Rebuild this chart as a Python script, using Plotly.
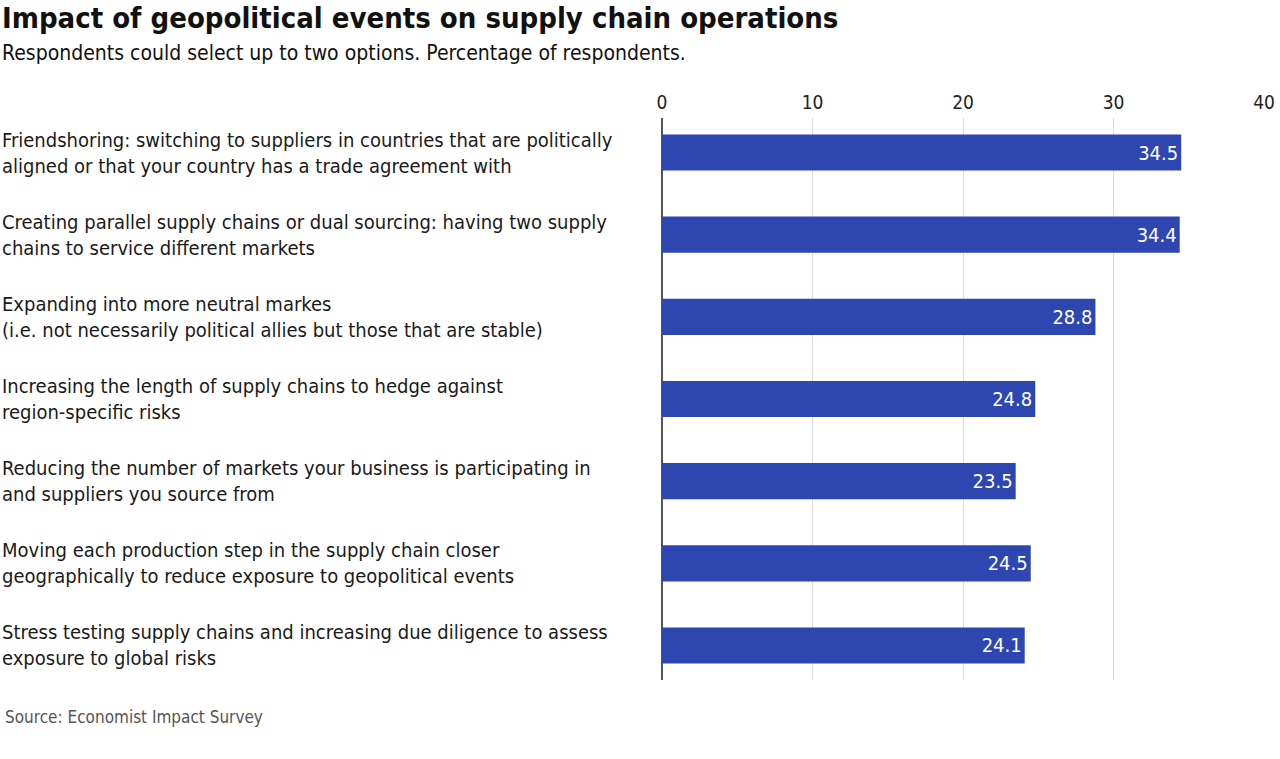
import plotly.graph_objects as go

# data
categories = [
    "Friendshoring: switching to suppliers in countries that are politically<br>aligned or that your country has a trade agreement with",
    "Creating parallel supply chains or dual sourcing: having two supply<br>chains to service different markets",
    "Expanding into more neutral markes<br>(i.e. not necessarily political allies but those that are stable)",
    "Increasing the length of supply chains to hedge against<br>region-specific risks",
    "Reducing the number of markets your business is participating in<br>and suppliers you source from",
    "Moving each production step in the supply chain closer<br>geographically to reduce exposure to geopolitical events",
    "Stress testing supply chains and increasing due diligence to assess<br>exposure to global risks",
]
values = [34.5, 34.4, 28.8, 24.8, 23.5, 24.5, 24.1]
x_ticks = [0, 10, 20, 30, 40]

FONT = "Liberation Sans Narrow, DejaVu Sans Condensed, Roboto, sans-serif"
BAR_COLOR = "#2e46b0"

fig = go.Figure()
fig.add_trace(go.Bar(
    x=values,
    y=list(range(len(categories))),
    orientation="h",
    width=0.44,
    marker=dict(color=BAR_COLOR, line=dict(width=0)),
    text=[f"{v:.1f}" for v in values],
    textposition="inside",
    insidetextanchor="end",
    textfont=dict(color="white", size=20, family=FONT),
    hoverinfo="skip",
))

# category labels, left-aligned in the left margin
for i, label in enumerate(categories):
    fig.add_annotation(
        x=0.0, xref="paper", xanchor="left",
        y=i, yref="y", yanchor="middle",
        text=label, showarrow=False, align="left",
        font=dict(size=20, color="#1a1a1a", family=FONT),
    )

# title block and source
fig.add_annotation(
    x=0.0, xref="paper", xanchor="left", y=1, yref="paper", yanchor="middle",
    yshift=118 - 18, text="<b>Impact of geopolitical events on supply chain operations</b>",
    showarrow=False, font=dict(size=29, color="#111", family=FONT),
)
fig.add_annotation(
    x=0.0, xref="paper", xanchor="left", y=1, yref="paper", yanchor="middle",
    yshift=118 - 53, text="Respondents could select up to two options. Percentage of respondents.",
    showarrow=False, font=dict(size=21, color="#111", family=FONT),
)
fig.add_annotation(
    x=0.002, xref="paper", xanchor="left", y=0, yref="paper", yanchor="middle",
    yshift=-(717 - 680), text="Source: Economist Impact Survey",
    showarrow=False, font=dict(size=17, color="#555", family=FONT),
)

fig.update_layout(
    width=1280, height=759,
    margin=dict(l=0, r=0, t=118, b=79, autoexpand=False),
    paper_bgcolor="white", plot_bgcolor="white",
    showlegend=False,
    bargap=0.56,
    font=dict(family=FONT, color="#222"),
    xaxis=dict(
        domain=[662 / 1280, 1264 / 1280],
        range=[0, 40], side="top",
        tickvals=x_ticks, ticktext=[str(t) for t in x_ticks],
        tickfont=dict(size=19, color="#222"),
        ticklabelstandoff=4,
        showgrid=True, gridcolor="#dcdcdc", gridwidth=1,
        zeroline=True, zerolinecolor="#555", zerolinewidth=1.5,
        showline=False, ticks="", fixedrange=True,
    ),
    yaxis=dict(
        range=[6.42, -0.42],
        showticklabels=False, showgrid=False, zeroline=False,
        showline=False, fixedrange=True,
    ),
)

# drop the browser's default body margin so the figure sits at the page corner
fig.write_html(
    "out.html",
    config={"displayModeBar": False},
    post_script="document.body.style.margin='0';",
)
